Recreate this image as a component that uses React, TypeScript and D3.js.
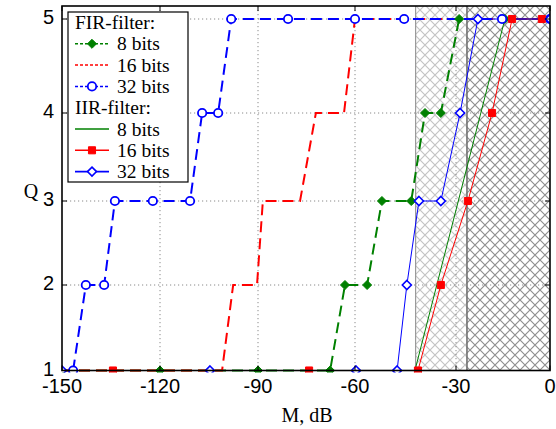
import * as d3 from "d3";

// tick values
const xTicks = [-150, -120, -90, -60, -30, 0];
const yTicks = [1, 2, 3, 4, 5];

// shaded (hatched) zones, M in dB
const zoneLight = [-42, -26.5];
const zoneDark = [-26.5, 0];

// FIR-filter curves
const fir8M = [-150, -120, -90, -67.7, -63.1, -56.4, -52, -43.3, -39.2, -34.5, -29, -14.4];
const fir8Q = [1, 1, 1, 1, 2, 2, 3, 3, 4, 4, 5, 5];
const fir16M = [-150, -101, -97.6, -90.3, -88.5, -77, -72.1, -63.4, -60, 0];
const fir16Q = [1, 1, 2, 2, 3, 3, 4, 4, 5, 5];
const fir32M = [-146.6, -142.7, -137.1, -133.8, -122.2, -110.8, -107.1, -102.2, -98.2, -80.7, -60, -45.4, -15.3, 0];
const fir32Q = [1, 2, 2, 3, 3, 3, 4, 4, 5, 5, 5, 5, 5, 5];

// IIR-filter curves
const iir8M = [-150, -42.2, -14.4, 0];
const iir8Q = [1, 1, 5, 5];
const iir16M = [-134.4, -74.2, -41.3, -34.5, -26.2, -18.5, -12.1, -2.6];
const iir16Q = [1, 1, 1, 2, 3, 4, 5, 5];
const iir32M = [-150, -104.7, -59.7, -47.5, -44.6, -41, -34.5, -28.7, -23, 0];
const iir32Q = [1, 1, 1, 1, 2, 3, 3, 4, 5, 5];

const GREEN = "#008000";
const RED = "#ff0000";
const BLUE = "#0000ff";

type Mark = "diamondFill" | "circle" | "square" | "diamondOpen" | "none";

const series = [
  { label: "8 bits", m: fir8M, q: fir8Q, color: GREEN, dashed: true, mark: "diamondFill" as Mark },
  { label: "16 bits", m: fir16M, q: fir16Q, color: RED, dashed: true, mark: "none" as Mark },
  { label: "32 bits", m: fir32M, q: fir32Q, color: BLUE, dashed: true, mark: "circle" as Mark },
  { label: "8 bits", m: iir8M, q: iir8Q, color: GREEN, dashed: false, mark: "none" as Mark },
  { label: "16 bits", m: iir16M, q: iir16Q, color: RED, dashed: false, mark: "square" as Mark },
  { label: "32 bits", m: iir32M, q: iir32Q, color: BLUE, dashed: false, mark: "diamondOpen" as Mark },
];

const SANS = "'Liberation Sans', Arial, sans-serif";
const SERIF = "'Liberation Serif', 'Times New Roman', serif";

const diamondPath = d3.symbol().type(d3.symbolDiamond2).size(52)()!;
const squarePath = d3.symbol().type(d3.symbolSquare).size(50)()!;

function Marker({ kind, cx, cy, color }: { kind: Mark; cx: number; cy: number; color: string }) {
  const t = `translate(${cx},${cy})`;
  if (kind === "diamondFill") return <path d={diamondPath} transform={t} fill={color} stroke={color} strokeWidth={1} />;
  if (kind === "diamondOpen") return <path d={diamondPath} transform={t} fill="white" stroke={color} strokeWidth={1.6} />;
  if (kind === "square") return <path d={squarePath} transform={t} fill={color} stroke={color} strokeWidth={1} />;
  if (kind === "circle") return <circle cx={cx} cy={cy} r={4.2} fill="white" stroke={color} strokeWidth={1.8} />;
  return null;
}

export default function App() {
  const W = 556;
  const H = 429;

  const x = d3.scaleLinear().domain([-150, -120, -90, -60, -30, 0]).range([62, 160, 258, 355, 456, 550]);
  const y = d3.scaleLinear().domain([1, 2, 3, 4, 5, 5.14]).range([370.5, 285, 201, 113, 19, 6]);

  const x0 = x(-150);
  const x1 = x(0);
  const yTop = y(5.14);
  const yBot = y(1);

  const pathFor = (m: number[], q: number[]) =>
    d3.line<number>().x((d) => x(m[d])).y((d) => y(q[d]))(m.map((_, i) => i)) || "";

  // legend rows (centre lines)
  const legendRows = d3.range(8).map((i) => 22.5 + i * 21.3);

  return (
    <div style={{ position: "fixed", left: 0, top: 0 }}>
      <svg width={W} height={H} style={{ display: "block", background: "white" }}>
        <defs>
          <pattern id="hatchLight" patternUnits="userSpaceOnUse" width={10} height={10}>
            <path d="M0,0L10,10M10,0L0,10" stroke="#c4c4c4" strokeWidth={1.2} />
          </pattern>
          <pattern id="hatchDark" patternUnits="userSpaceOnUse" width={10} height={10}>
            <path d="M0,0L10,10M10,0L0,10" stroke="#8f8f8f" strokeWidth={1.2} />
          </pattern>
          <clipPath id="plotClip">
            <rect x={x0} y={yTop} width={x1 - x0} height={yBot - yTop + 2} />
          </clipPath>
        </defs>

        {/* hatched zones */}
        <rect x={x(zoneLight[0])} y={yTop} width={x(zoneLight[1]) - x(zoneLight[0])} height={yBot - yTop} fill="url(#hatchLight)" />
        <rect x={x(zoneDark[0])} y={yTop} width={x(zoneDark[1]) - x(zoneDark[0])} height={yBot - yTop} fill="url(#hatchDark)" />
        <line x1={x(zoneLight[0])} x2={x(zoneLight[0])} y1={yTop} y2={yBot} stroke="#9a9a9a" strokeWidth={1.2} />
        <line x1={x(zoneDark[0])} x2={x(zoneDark[0])} y1={yTop} y2={yBot} stroke="#707070" strokeWidth={1.6} />

        {/* grid */}
        {xTicks.slice(1, -1).map((t) => (
          <line key={"gx" + t} x1={x(t)} x2={x(t)} y1={yTop} y2={yBot} stroke="#8a8a8a" strokeWidth={1} strokeDasharray="1.2,2.8" />
        ))}
        {yTicks.slice(1).map((t) => (
          <line key={"gy" + t} x1={x0} x2={x1} y1={y(t)} y2={y(t)} stroke="#8a8a8a" strokeWidth={1} strokeDasharray="1.2,2.8" />
        ))}

        {/* curves */}
        <g clipPath="url(#plotClip)">
          {series.map((s, i) => (
            <path
              key={"l" + i}
              d={pathFor(s.m, s.q)}
              fill="none"
              stroke={s.color}
              strokeWidth={s.dashed ? 2 : 1}
              strokeDasharray={s.dashed ? "11,6" : undefined}
            />
          ))}
          {series.map((s, i) =>
            s.m.map((m, j) => <Marker key={`m${i}-${j}`} kind={s.mark} cx={x(m)} cy={y(s.q[j])} color={s.color} />)
          )}
        </g>

        {/* frame and ticks */}
        <rect x={x0} y={yTop} width={x1 - x0} height={yBot - yTop} fill="none" stroke="black" strokeWidth={1.6} />
        {xTicks.map((t) => (
          <g key={"tx" + t}>
            <line x1={x(t)} x2={x(t)} y1={yBot} y2={yBot - 5} stroke="black" />
            <line x1={x(t)} x2={x(t)} y1={yTop} y2={yTop + 5} stroke="black" />
            <text x={x(t)} y={393} textAnchor="middle" fontFamily={SANS} fontSize={20} fill="black">
              {t}
            </text>
          </g>
        ))}
        {yTicks.map((t) => (
          <g key={"ty" + t}>
            <line x1={x0} x2={x0 + 5} y1={y(t)} y2={y(t)} stroke="black" />
            <line x1={x1} x2={x1 - 5} y1={y(t)} y2={y(t)} stroke="black" />
            <text x={54} y={y(t) - 2} dominantBaseline="central" textAnchor="end" fontFamily={SANS} fontSize={20} fill="black">
              {t}
            </text>
          </g>
        ))}

        {/* axis titles */}
        <text x={307} y={422} textAnchor="middle" fontFamily={SERIF} fontSize={20} fill="black">
          M, dB
        </text>
        <text x={31} y={191} textAnchor="middle" dominantBaseline="central" fontFamily={SERIF} fontSize={20} fill="black">
          Q
        </text>

        {/* legend */}
        <rect x={68} y={12} width={120} height={170} fill="white" stroke="black" strokeWidth={1.2} />
        <text x={75} y={legendRows[0]} dominantBaseline="central" fontFamily={SERIF} fontSize={19.5} fill="black">
          FIR-filter:
        </text>
        <text x={75} y={legendRows[4]} dominantBaseline="central" fontFamily={SERIF} fontSize={19.5} fill="black">
          IIR-filter:
        </text>
        {series.map((s, i) => {
          const ry = legendRows[i < 3 ? i + 1 : i + 2];
          return (
            <g key={"lg" + i}>
              <line
                x1={75}
                x2={109}
                y1={ry}
                y2={ry}
                stroke={s.color}
                strokeWidth={s.dashed ? 1.5 : 1.6}
                strokeDasharray={s.dashed ? "3,2" : undefined}
              />
              <Marker kind={s.mark} cx={92} cy={ry} color={s.color} />
              <text x={117} y={ry} dominantBaseline="central" fontFamily={SERIF} fontSize={19.5} fill="black">
                {s.label}
              </text>
            </g>
          );
        })}
      </svg>
    </div>
  );
}
